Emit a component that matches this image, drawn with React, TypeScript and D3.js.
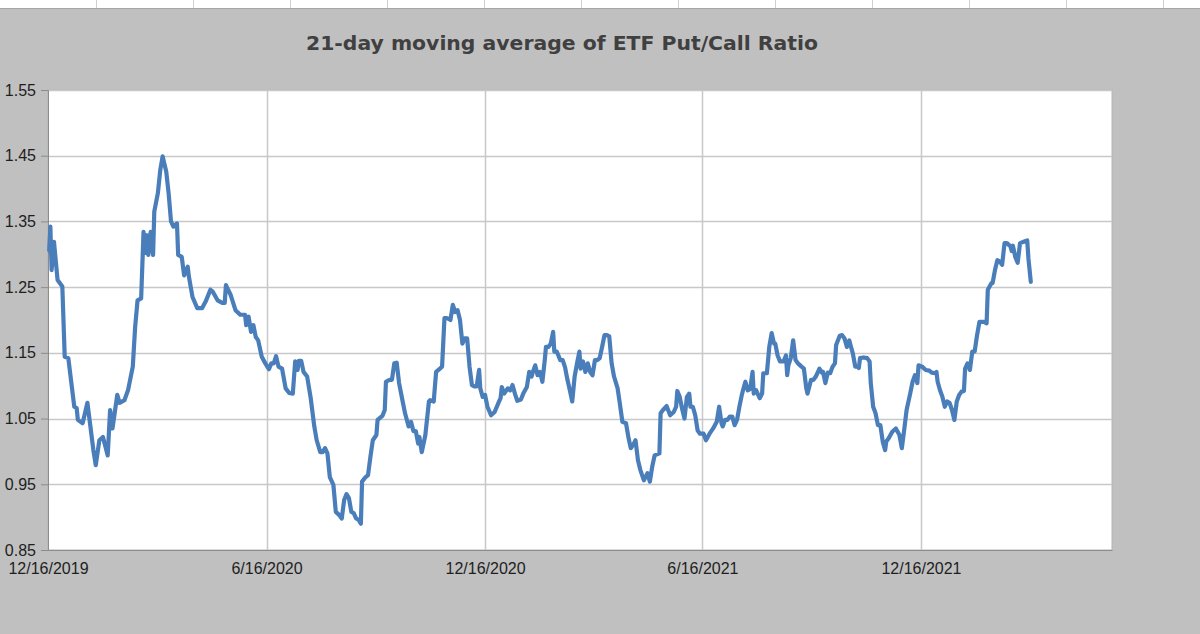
import { useRef, useEffect } from "react";
import * as d3 from "d3";

// days since 12/16/2019 for each reading, and the 21-day average put/call ratio
const dayOffsets = [
  1, 2, 3, 5, 8, 12, 14, 17, 22, 24, 25, 29, 33, 38, 40, 43, 46, 50, 52, 54,
  58, 60, 64, 67, 71, 73, 75, 78, 80, 82, 83, 84, 86, 88, 89, 92, 94, 96, 99, 101,
  103, 105, 108, 109, 112, 114, 117, 118, 121, 125, 129, 132, 136, 138, 142, 146, 148, 149, 153, 157,
  161, 165, 166, 168, 170, 172, 174, 176, 179, 182, 185, 187, 189, 191, 193, 196, 199, 202, 205, 207,
  209, 210, 212, 214, 217, 220, 223, 225, 228, 230, 232, 234, 236, 239, 241, 244, 246, 248, 250, 252,
  254, 256, 258, 260, 262, 263, 266, 268, 270, 272, 275, 276, 280, 282, 283, 286, 288, 290, 292, 294,
  297, 299, 302, 304, 306, 308, 310, 311, 313, 316, 319, 320, 323, 325, 327, 330, 332, 334, 337, 339,
  341, 343, 345, 347, 349, 351, 353, 355, 357, 359, 361, 362, 364, 366, 368, 371, 374, 377, 379, 380,
  382, 385, 387, 389, 391, 393, 396, 398, 401, 403, 405, 406, 408, 410, 412, 414, 416, 417, 419, 421,
  423, 424, 426, 429, 431, 433, 435, 437, 439, 441, 443, 445, 446, 448, 450, 452, 454, 456, 458, 460,
  462, 464, 466, 468, 470, 472, 474, 477, 479, 481, 484, 486, 488, 490, 492, 494, 496, 499, 502, 504,
  506, 508, 512, 513, 515, 518, 521, 524, 526, 527, 529, 531, 533, 535, 537, 538, 540, 542, 544, 546,
  549, 551, 554, 557, 560, 562, 564, 565, 567, 569, 571, 573, 575, 577, 579, 581, 582, 584, 586, 588,
  590, 591, 593, 596, 598, 599, 602, 604, 606, 608, 609, 611, 613, 616, 618, 619, 620, 622, 624, 626,
  628, 631, 633, 635, 636, 639, 641, 643, 646, 648, 649, 651, 653, 655, 657, 659, 660, 663, 665, 667,
  669, 671, 672, 674, 676, 678, 679, 680, 683, 686, 688, 689, 691, 693, 695, 697, 699, 701, 702, 704,
  707, 710, 713, 715, 717, 719, 722, 724, 726, 728, 729, 732, 735, 738, 740, 743, 744, 745, 747, 749,
  751, 753, 755, 757, 759, 761, 763, 765, 767, 768, 770, 772, 774, 776, 778, 780, 782, 784, 786, 787,
  790, 791, 793, 795, 797, 799, 801, 803, 806, 807, 808, 810, 812, 814, 817, 820, 821, 823,
];

const ratios = [
  1.306, 1.342, 1.276, 1.319, 1.261, 1.251, 1.144, 1.142, 1.068, 1.066, 1.048, 1.043, 1.074, 1.002, 0.979, 1.017, 1.022, 0.994, 1.063, 1.035,
  1.086, 1.074, 1.078, 1.093, 1.129, 1.19, 1.23, 1.233, 1.334, 1.302, 1.329, 1.299, 1.334, 1.299, 1.365, 1.393, 1.428, 1.449, 1.426, 1.393,
  1.35, 1.342, 1.347, 1.299, 1.296, 1.268, 1.281, 1.266, 1.235, 1.218, 1.218, 1.228, 1.246, 1.243, 1.23, 1.226, 1.226, 1.253, 1.238, 1.215,
  1.208, 1.208, 1.192, 1.205, 1.182, 1.192, 1.174, 1.169, 1.144, 1.134, 1.125, 1.134, 1.134, 1.145, 1.129, 1.126, 1.096, 1.089, 1.088, 1.137,
  1.124, 1.138, 1.138, 1.121, 1.114, 1.081, 1.038, 1.017, 0.999, 0.999, 1.005, 0.997, 0.961, 0.949, 0.908, 0.903, 0.898, 0.926, 0.935, 0.929,
  0.908, 0.906, 0.898, 0.896, 0.89, 0.954, 0.961, 0.964, 0.992, 1.017, 1.025, 1.048, 1.054, 1.063, 1.106, 1.109, 1.109, 1.134, 1.135, 1.104,
  1.076, 1.058, 1.038, 1.045, 1.031, 1.031, 1.012, 1.022, 0.999, 1.025, 1.076, 1.078, 1.076, 1.121, 1.124, 1.129, 1.203, 1.203, 1.2, 1.223,
  1.212, 1.215, 1.2, 1.164, 1.172, 1.172, 1.129, 1.101, 1.099, 1.099, 1.124, 1.096, 1.083, 1.086, 1.068, 1.055, 1.06, 1.073, 1.081, 1.098,
  1.088, 1.096, 1.093, 1.101, 1.088, 1.077, 1.079, 1.088, 1.098, 1.121, 1.114, 1.121, 1.131, 1.116, 1.121, 1.106, 1.139, 1.159, 1.159, 1.164,
  1.182, 1.152, 1.152, 1.139, 1.139, 1.128, 1.109, 1.093, 1.076, 1.114, 1.134, 1.152, 1.126, 1.137, 1.121, 1.134, 1.121, 1.116, 1.139, 1.139,
  1.142, 1.159, 1.177, 1.177, 1.175, 1.134, 1.114, 1.096, 1.071, 1.045, 1.043, 1.022, 1.005, 1.01, 1.017, 0.987, 0.972, 0.956, 0.967, 0.954,
  0.977, 0.994, 0.997, 1.058, 1.063, 1.069, 1.055, 1.06, 1.068, 1.092, 1.083, 1.065, 1.05, 1.083, 1.088, 1.068, 1.068, 1.055, 1.032, 1.027,
  1.027, 1.017, 1.027, 1.035, 1.045, 1.068, 1.043, 1.038, 1.048, 1.048, 1.053, 1.053, 1.04, 1.048, 1.068, 1.086, 1.093, 1.106, 1.093, 1.095,
  1.121, 1.088, 1.093, 1.081, 1.088, 1.119, 1.119, 1.159, 1.18, 1.164, 1.164, 1.146, 1.137, 1.137, 1.146, 1.116, 1.131, 1.142, 1.169, 1.139,
  1.134, 1.129, 1.126, 1.096, 1.088, 1.109, 1.109, 1.114, 1.126, 1.12, 1.121, 1.104, 1.12, 1.119, 1.129, 1.134, 1.162, 1.176, 1.177, 1.172,
  1.159, 1.169, 1.162, 1.149, 1.129, 1.129, 1.127, 1.142, 1.143, 1.142, 1.137, 1.104, 1.068, 1.058, 1.04, 1.04, 1.015, 1.002, 1.015, 1.02,
  1.03, 1.035, 1.025, 1.005, 1.033, 1.063, 1.088, 1.106, 1.116, 1.104, 1.131, 1.129, 1.124, 1.123, 1.12, 1.119, 1.121, 1.106, 1.093, 1.083,
  1.068, 1.076, 1.074, 1.063, 1.048, 1.076, 1.086, 1.091, 1.092, 1.126, 1.134, 1.124, 1.152, 1.152, 1.177, 1.197, 1.197, 1.197, 1.195, 1.246,
  1.256, 1.256, 1.276, 1.291, 1.289, 1.284, 1.317, 1.317, 1.312, 1.305, 1.313, 1.296, 1.287, 1.317, 1.319, 1.321, 1.294, 1.258,
];

const yTicks = [0.85, 0.95, 1.05, 1.15, 1.25, 1.35, 1.45, 1.55];
const xTickLabels = ["12/16/2019", "6/16/2020", "12/16/2020", "6/16/2021", "12/16/2021"];
const title = "21-day moving average of ETF Put/Call Ratio";

const W = 1200;
const H = 634;

export default function App() {
  const svgRef = useRef<SVGSVGElement>(null);

  useEffect(() => {
    if (!svgRef.current) return;
    const margin = { top: 90, right: 88, bottom: 84, left: 48 };
    const chartW = W - margin.left - margin.right;
    const chartH = H - margin.top - margin.bottom;

    const start = new Date(Date.UTC(2019, 11, 16));
    const toDate = (d: number) => d3.utcDay.offset(start, d);
    const tickDates = xTickLabels.map((s) => {
      const [m, d, y] = s.split("/").map(Number);
      return new Date(Date.UTC(y, m - 1, d));
    });

    const svg = d3.select(svgRef.current);
    svg.selectAll("*").remove();

    svg.append("rect").attr("width", W).attr("height", H).attr("fill", "#c0c0c0");

    // spreadsheet row peeking above the chart
    svg.append("rect").attr("width", W).attr("height", 8).attr("fill", "#ffffff");
    svg
      .append("g")
      .selectAll("line")
      .data(d3.range(1, 13))
      .join("line")
      .attr("x1", (i) => i * 97 - 0.5)
      .attr("x2", (i) => i * 97 - 0.5)
      .attr("y1", 0)
      .attr("y2", 8)
      .attr("stroke", "#d0d0d0");
    svg
      .append("line")
      .attr("x1", 0)
      .attr("x2", W)
      .attr("y1", 8.5)
      .attr("y2", 8.5)
      .attr("stroke", "#a6a6a6");

    svg
      .append("text")
      .attr("x", 562)
      .attr("y", 50)
      .attr("text-anchor", "middle")
      .attr("textLength", 512)
      .attr("lengthAdjust", "spacingAndGlyphs")
      .style("font-family", "'DejaVu Sans', Verdana, sans-serif")
      .style("font-weight", "bold")
      .style("font-size", "19px")
      .style("fill", "#404040")
      .text(title);

    const g = svg.append("g").attr("transform", `translate(${margin.left},${margin.top})`);

    const x = d3
      .scaleUtc()
      .domain([start, toDate(891.5)])
      .range([0, chartW]);
    const y = d3.scaleLinear().domain([0.85, 1.55]).range([chartH, 0]);

    g.append("rect")
      .attr("width", chartW)
      .attr("height", chartH)
      .attr("fill", "#ffffff")
      .attr("stroke", "#b4b4b4");

    // grid
    g.append("g")
      .selectAll("line")
      .data(yTicks.slice(1))
      .join("line")
      .attr("x1", 0)
      .attr("x2", chartW)
      .attr("y1", (d) => Math.round(y(d)) + 0.5)
      .attr("y2", (d) => Math.round(y(d)) + 0.5)
      .attr("stroke", "#c8c8c8")
      .attr("stroke-width", 1.5);
    g.append("g")
      .selectAll("line")
      .data(tickDates.slice(1))
      .join("line")
      .attr("x1", (d) => Math.round(x(d)) + 0.5)
      .attr("x2", (d) => Math.round(x(d)) + 0.5)
      .attr("y1", 0)
      .attr("y2", chartH)
      .attr("stroke", "#c8c8c8")
      .attr("stroke-width", 1.5);

    // Y axis
    g.append("g")
      .call(
        d3
          .axisLeft(y)
          .tickValues(yTicks)
          .tickSize(7)
          .tickPadding(5)
          .tickFormat((d) => (d as number).toFixed(2))
      )
      .call((a) => a.select(".domain").attr("stroke", "#8c8c8c"))
      .call((a) => a.selectAll(".tick line").attr("stroke", "#8c8c8c"))
      .selectAll("text")
      .style("font-family", "'Liberation Sans', Arial, sans-serif")
      .style("font-size", "16px")
      .style("fill", "#1e1e1e");

    // X axis
    g.append("g")
      .attr("transform", `translate(0,${chartH})`)
      .call(
        d3
          .axisBottom(x)
          .tickValues(tickDates)
          .tickSize(0)
          .tickPadding(13)
          .tickFormat((_, i) => xTickLabels[i])
      )
      .call((a) => a.select(".domain").attr("stroke", "#8c8c8c"))
      .selectAll("text")
      .style("font-family", "'Liberation Sans', Arial, sans-serif")
      .style("font-size", "16px")
      .style("fill", "#1e1e1e");

    const line = d3
      .line<number>()
      .x((d) => x(toDate(d)))
      .y((_, i) => y(ratios[i]))
      .curve(d3.curveLinear);

    g.append("path")
      .datum(dayOffsets)
      .attr("d", line)
      .attr("fill", "none")
      .attr("stroke", "#4a7ebb")
      .attr("stroke-width", 4.2)
      .attr("stroke-linejoin", "round")
      .attr("stroke-linecap", "round");
  }, []);

  return (
    <svg
      ref={svgRef}
      width={W}
      height={H}
      style={{ position: "absolute", left: 0, top: 0, display: "block" }}
    />
  );
}
